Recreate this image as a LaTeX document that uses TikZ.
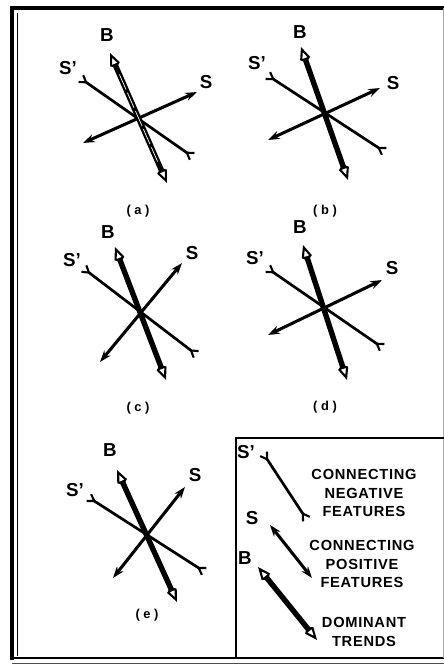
\documentclass[tikz,border=0pt]{standalone}
\usepackage{fontspec}
\setmainfont{Liberation Sans}
\newfontfamily\legfont[LetterSpace=5]{Liberation Sans}
\usetikzlibrary{arrows.meta}

\begin{document}
\begin{tikzpicture}[
    x=0.03cm, y=-0.03cm,
    posline/.style={
      arrows={Stealth[length=10pt,width=7pt]-Stealth[length=10pt,width=7pt]},
      line width=2.6pt
    },
    negline/.style={
      arrows={Straight Barb[reversed,length=5.5pt,width=7pt,line width=1.8pt]-Straight Barb[reversed,length=5.5pt,width=7pt,line width=1.8pt]},
      line width=2.3pt
    },
    trendline/.style={
      arrows={Kite[open,length=14pt,width=9pt,inset=3.5pt,line width=1.8pt]-Kite[open,length=14pt,width=9pt,inset=3.5pt,line width=1.8pt]},
      line width=4.6pt
    },
    lbl/.style={font=\fontsize{16}{16}\selectfont\bfseries, inner sep=0pt},
    sub/.style={font=\fontsize{11}{11}\selectfont\bfseries, inner sep=0pt},
    legtext/.style={font=\legfont\fontsize{12.5}{16}\selectfont\bfseries, align=center, inner sep=0pt},
  ]
  \useasboundingbox (0,0) rectangle (444,665);

  % =================== Frame ===================
  \draw[line width=3pt] (12,660) -- (12,8) -- (444,8);
  \draw[line width=0.8pt] (17,656) -- (17,13);
  \draw[line width=2.4pt] (12,658) -- (444,658);
  \draw[line width=0.6pt, black!70] (12,663) -- (444,663);
  \draw[line width=0.6pt, black!35] (443,8) -- (443,658);

  % =================== (a) ===================
  \coordinate (aBt) at (110,53);  \coordinate (aBb) at (167,183);
  \coordinate (aNl) at (80,78);   \coordinate (aNr) at (193,157);
  \coordinate (aPl) at (83,143);  \coordinate (aPr) at (197,92);
  \node[lbl] (aB) at (107,35) {B};
  \node[lbl] (aN) at (68,68) {S’};
  \node[lbl] (aP) at (206,82) {S};
  \draw[negline] (aNl) -- (aNr);
  \draw[posline] (aPl) -- (aPr);
  \draw[trendline] (aBt) -- (aBb);
  \draw[white, line width=0.6pt, dash pattern=on 14pt off 3pt, shorten <=20pt, shorten >=20pt] (aBt) -- (aBb);
  \node[sub] (acap) at (138,211) {( a )};

  % =================== (b) ===================
  \coordinate (bBt) at (301,47);  \coordinate (bBb) at (348,180);
  \coordinate (bNl) at (267,75);  \coordinate (bNr) at (385,152);
  \coordinate (bPl) at (268,140); \coordinate (bPr) at (380,88);
  \node[lbl] (bB) at (300,32) {B};
  \node[lbl] (bN) at (257,63) {S’};
  \node[lbl] (bP) at (393,83) {S};
  \draw[negline] (bNl) -- (bNr);
  \draw[posline] (bPl) -- (bPr);
  \draw[trendline] (bBt) -- (bBb);
  \node[sub] (bcap) at (325,211) {( b )};

  % =================== (c) ===================
  \coordinate (cBt) at (115,247); \coordinate (cBb) at (166,380);
  \coordinate (cNl) at (83,268);  \coordinate (cNr) at (197,355);
  \coordinate (cPl) at (100,362); \coordinate (cPr) at (182,263);
  \node[lbl] (cB) at (108,232) {B};
  \node[lbl] (cN) at (72,260) {S’};
  \node[lbl] (cP) at (192,253) {S};
  \draw[negline] (cNl) -- (cNr);
  \draw[posline] (cPl) -- (cPr);
  \draw[trendline] (cBt) -- (cBb);
  \node[sub] (ccap) at (138,408) {( c )};

  % =================== (d) ===================
  \coordinate (dBt) at (303,245); \coordinate (dBb) at (347,380);
  \coordinate (dNl) at (267,268); \coordinate (dNr) at (383,348);
  \coordinate (dPl) at (268,335); \coordinate (dPr) at (382,280);
  \node[lbl] (dB) at (300,227) {B};
  \node[lbl] (dN) at (255,258) {S’};
  \node[lbl] (dP) at (392,268) {S};
  \draw[negline] (dNl) -- (dNr);
  \draw[posline] (dPl) -- (dPr);
  \draw[trendline] (dBt) -- (dBb);
  \node[sub] (dcap) at (325,407) {( d )};

  % =================== (e) ===================
  \coordinate (eBt) at (117,470); \coordinate (eBb) at (177,602);
  \coordinate (eNl) at (88,497);  \coordinate (eNr) at (205,572);
  \coordinate (ePl) at (113,578); \coordinate (ePr) at (185,487);
  \node[lbl] (eB) at (110,450) {B};
  \node[lbl] (eN) at (75,490) {S’};
  \node[lbl] (eP) at (195,475) {S};
  \draw[negline] (eNl) -- (eNr);
  \draw[posline] (ePl) -- (ePr);
  \draw[trendline] (eBt) -- (eBb);
  \node[sub] (ecap) at (147,615) {( e )};

  % =================== Key ===================
  \draw[line width=1.6pt] (236,658) -- (236,438) -- (444,438);

  \coordinate (kNt) at (263,453); \coordinate (kNb) at (307,520);
  \node[lbl] (kN) at (246,452) {S’};
  \draw[negline] (kNt) -- (kNb);
  \node[legtext] (kNtxt) at (364,493) {CONNECTING\\NEGATIVE\\FEATURES};

  \coordinate (kPt) at (270,525); \coordinate (kPb) at (312,578);
  \node[lbl] (kP) at (252,518) {S};
  \draw[posline] (kPt) -- (kPb);
  \node[legtext] (kPtxt) at (362,564) {CONNECTING\\POSITIVE\\FEATURES};

  \coordinate (kBt) at (258,567); \coordinate (kBb) at (317,640);
  \node[lbl] (kB) at (245,558) {B};
  \draw[trendline] (kBt) -- (kBb);
  \node[legtext] (kBtxt) at (364,632) {DOMINANT\\TRENDS};
\end{tikzpicture}
\end{document}
